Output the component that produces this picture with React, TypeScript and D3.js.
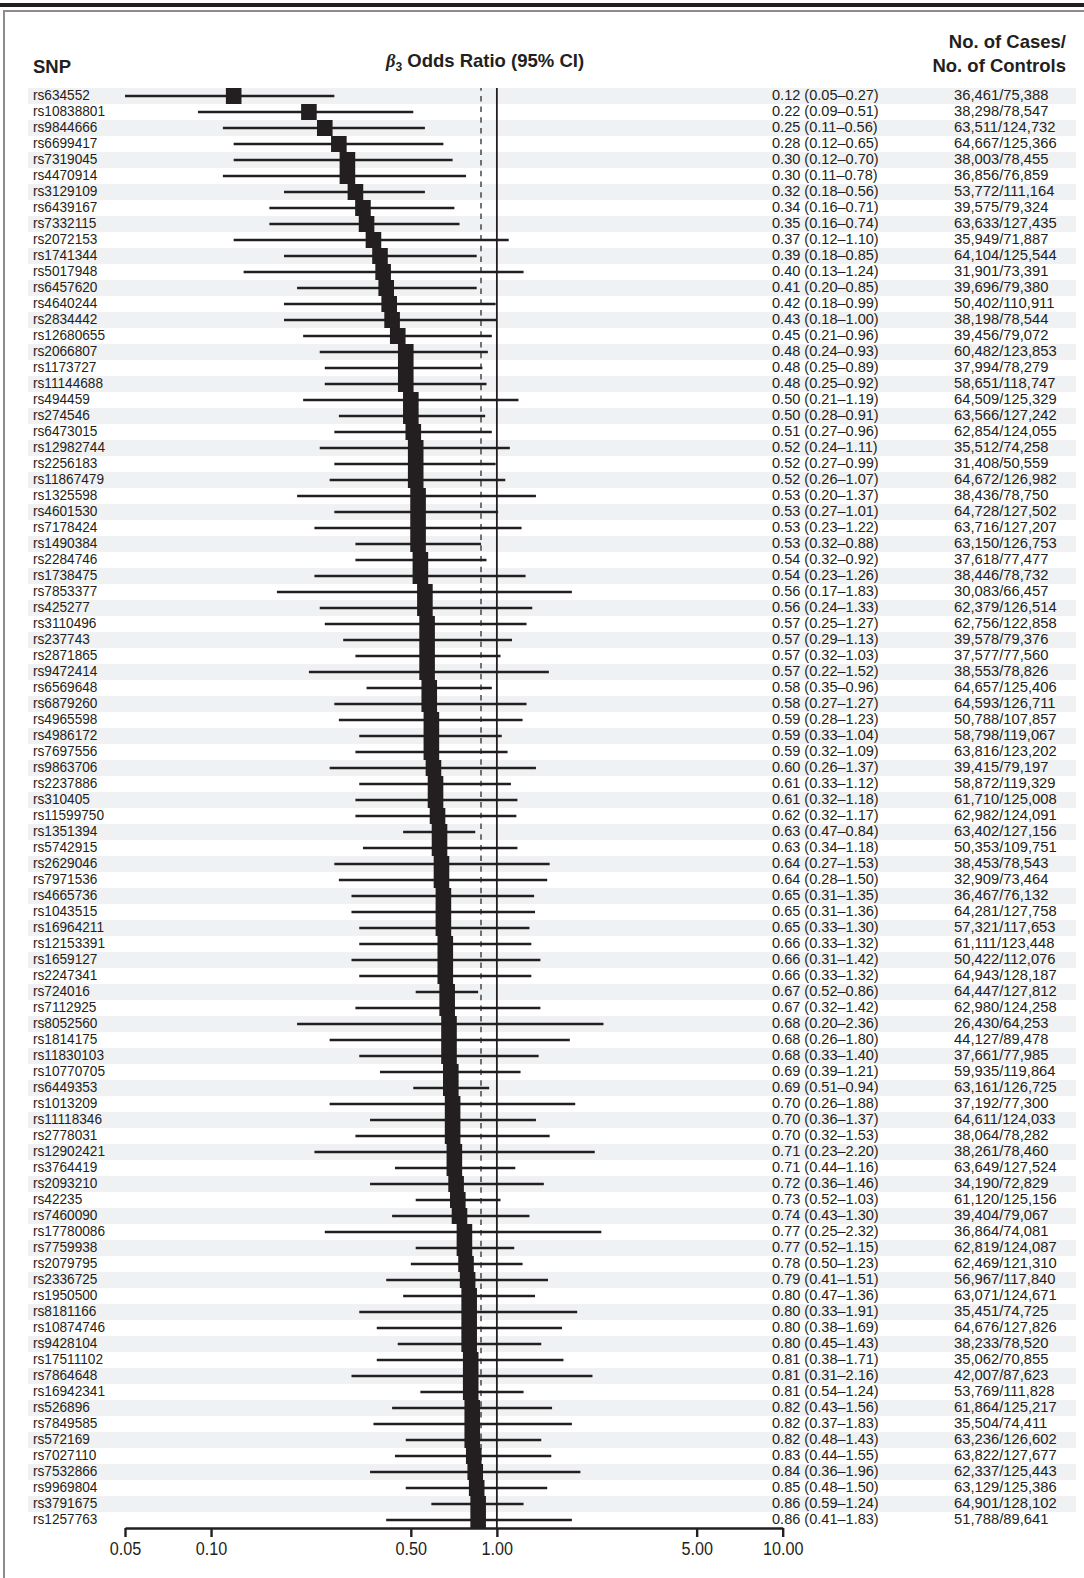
import { useEffect, useRef } from "react";
import * as d3 from "d3";

const snps = [
  "rs634552", "rs10838801", "rs9844666", "rs6699417", "rs7319045", "rs4470914", "rs3129109", "rs6439167",
  "rs7332115", "rs2072153", "rs1741344", "rs5017948", "rs6457620", "rs4640244", "rs2834442", "rs12680655",
  "rs2066807", "rs1173727", "rs11144688", "rs494459", "rs274546", "rs6473015", "rs12982744", "rs2256183",
  "rs11867479", "rs1325598", "rs4601530", "rs7178424", "rs1490384", "rs2284746", "rs1738475", "rs7853377",
  "rs425277", "rs3110496", "rs237743", "rs2871865", "rs9472414", "rs6569648", "rs6879260", "rs4965598",
  "rs4986172", "rs7697556", "rs9863706", "rs2237886", "rs310405", "rs11599750", "rs1351394", "rs5742915",
  "rs2629046", "rs7971536", "rs4665736", "rs1043515", "rs16964211", "rs12153391", "rs1659127", "rs2247341",
  "rs724016", "rs7112925", "rs8052560", "rs1814175", "rs11830103", "rs10770705", "rs6449353", "rs1013209",
  "rs11118346", "rs2778031", "rs12902421", "rs3764419", "rs2093210", "rs42235", "rs7460090", "rs17780086",
  "rs7759938", "rs2079795", "rs2336725", "rs1950500", "rs8181166", "rs10874746", "rs9428104", "rs17511102",
  "rs7864648", "rs16942341", "rs526896", "rs7849585", "rs572169", "rs7027110", "rs7532866", "rs9969804",
  "rs3791675", "rs1257763",
];

const oddsRatio = [
  0.12, 0.22, 0.25, 0.28, 0.30, 0.30, 0.32, 0.34, 0.35, 0.37, 0.39, 0.40, 0.41, 0.42, 0.43, 0.45,
  0.48, 0.48, 0.48, 0.50, 0.50, 0.51, 0.52, 0.52, 0.52, 0.53, 0.53, 0.53, 0.53, 0.54, 0.54, 0.56,
  0.56, 0.57, 0.57, 0.57, 0.57, 0.58, 0.58, 0.59, 0.59, 0.59, 0.60, 0.61, 0.61, 0.62, 0.63, 0.63,
  0.64, 0.64, 0.65, 0.65, 0.65, 0.66, 0.66, 0.66, 0.67, 0.67, 0.68, 0.68, 0.68, 0.69, 0.69, 0.70,
  0.70, 0.70, 0.71, 0.71, 0.72, 0.73, 0.74, 0.77, 0.77, 0.78, 0.79, 0.80, 0.80, 0.80, 0.80, 0.81,
  0.81, 0.81, 0.82, 0.82, 0.82, 0.83, 0.84, 0.85, 0.86, 0.86,
];

const ciLow = [
  0.05, 0.09, 0.11, 0.12, 0.12, 0.11, 0.18, 0.16, 0.16, 0.12, 0.18, 0.13, 0.20, 0.18, 0.18, 0.21,
  0.24, 0.25, 0.25, 0.21, 0.28, 0.27, 0.24, 0.27, 0.26, 0.20, 0.27, 0.23, 0.32, 0.32, 0.23, 0.17,
  0.24, 0.25, 0.29, 0.32, 0.22, 0.35, 0.27, 0.28, 0.33, 0.32, 0.26, 0.33, 0.32, 0.32, 0.47, 0.34,
  0.27, 0.28, 0.31, 0.31, 0.33, 0.33, 0.31, 0.33, 0.52, 0.32, 0.20, 0.26, 0.33, 0.39, 0.51, 0.26,
  0.36, 0.32, 0.23, 0.44, 0.36, 0.52, 0.43, 0.25, 0.52, 0.50, 0.41, 0.47, 0.33, 0.38, 0.45, 0.38,
  0.31, 0.54, 0.43, 0.37, 0.48, 0.44, 0.36, 0.48, 0.59, 0.41,
];

const ciHigh = [
  0.27, 0.51, 0.56, 0.65, 0.70, 0.78, 0.56, 0.71, 0.74, 1.10, 0.85, 1.24, 0.85, 0.99, 1.00, 0.96,
  0.93, 0.89, 0.92, 1.19, 0.91, 0.96, 1.11, 0.99, 1.07, 1.37, 1.01, 1.22, 0.88, 0.92, 1.26, 1.83,
  1.33, 1.27, 1.13, 1.03, 1.52, 0.96, 1.27, 1.23, 1.04, 1.09, 1.37, 1.12, 1.18, 1.17, 0.84, 1.18,
  1.53, 1.50, 1.35, 1.36, 1.30, 1.32, 1.42, 1.32, 0.86, 1.42, 2.36, 1.80, 1.40, 1.21, 0.94, 1.88,
  1.37, 1.53, 2.20, 1.16, 1.46, 1.03, 1.30, 2.32, 1.15, 1.23, 1.51, 1.36, 1.91, 1.69, 1.43, 1.71,
  2.16, 1.24, 1.56, 1.83, 1.43, 1.55, 1.96, 1.50, 1.24, 1.83,
];

const cases = [
  36461, 38298, 63511, 64667, 38003, 36856, 53772, 39575, 63633, 35949, 64104, 31901, 39696, 50402, 38198, 39456,
  60482, 37994, 58651, 64509, 63566, 62854, 35512, 31408, 64672, 38436, 64728, 63716, 63150, 37618, 38446, 30083,
  62379, 62756, 39578, 37577, 38553, 64657, 64593, 50788, 58798, 63816, 39415, 58872, 61710, 62982, 63402, 50353,
  38453, 32909, 36467, 64281, 57321, 61111, 50422, 64943, 64447, 62980, 26430, 44127, 37661, 59935, 63161, 37192,
  64611, 38064, 38261, 63649, 34190, 61120, 39404, 36864, 62819, 62469, 56967, 63071, 35451, 64676, 38233, 35062,
  42007, 53769, 61864, 35504, 63236, 63822, 62337, 63129, 64901, 51788,
];

const controls = [
  75388, 78547, 124732, 125366, 78455, 76859, 111164, 79324, 127435, 71887, 125544, 73391, 79380, 110911, 78544, 79072,
  123853, 78279, 118747, 125329, 127242, 124055, 74258, 50559, 126982, 78750, 127502, 127207, 126753, 77477, 78732, 66457,
  126514, 122858, 79376, 77560, 78826, 125406, 126711, 107857, 119067, 123202, 79197, 119329, 125008, 124091, 127156, 109751,
  78543, 73464, 76132, 127758, 117653, 123448, 112076, 128187, 127812, 124258, 64253, 89478, 77985, 119864, 126725, 77300,
  124033, 78282, 78460, 127524, 72829, 125156, 79067, 74081, 124087, 121310, 117840, 124671, 74725, 127826, 78520, 70855,
  87623, 111828, 125217, 74411, 126602, 127677, 125443, 125386, 128102, 89641,
];

const xTicks = [0.05, 0.1, 0.5, 1, 5, 10];
const dashedRef = 0.88;

const ink = "#231f20";
const stripe = "#f0f1f3";
const font = "'Liberation Sans', Arial, sans-serif";

export default function App() {
  const axisRef = useRef<SVGGElement | null>(null);

  const width = 1084;
  const height = 1578;
  const rowTop = 88;
  const rowH = 16;
  const axisY = rowTop + rowH * snps.length;

  const x = d3.scaleLog().domain([0.05, 10]).range([125, 782.7]);
  const y = d3
    .scaleBand<string>()
    .domain(snps)
    .range([rowTop, axisY]);
  const f2 = d3.format(".2f");
  const fN = d3.format(",");

  useEffect(() => {
    document.body.style.margin = "0";
    const g = d3.select(axisRef.current);
    g.selectAll("*").remove();
    g.call(
      d3
        .axisBottom(x)
        .tickValues(xTicks)
        .tickFormat((d: any) => f2(d))
        .tickSize(9)
        .tickSizeOuter(0)
        .tickPadding(5)
    );
    g.select(".domain").attr("stroke", ink).attr("stroke-width", 2.4);
    g.selectAll(".tick line").attr("stroke", ink).attr("stroke-width", 2.4);
    g.selectAll(".tick text")
      .attr("fill", ink)
      .attr("font-size", 18)
      .attr("font-family", font)
      .attr("transform", "scale(0.9,1)");
  }, []);

  return (
    <svg width={width} height={height} style={{ display: "block" }}>
      <rect x={0} y={0} width={width} height={height} fill="#fff" />
      <rect x={0} y={3} width={width} height={4} fill={ink} />
      <path d={`M4,${height} V11 H${width}`} fill="none" stroke="#8c8c8c" strokeWidth={2} />

      {/* headers */}
      <g fontFamily={font} fontWeight="bold" fill={ink} fontSize={18.5}>
        <text x={33} y={73}>SNP</text>
        <text x={485} y={67} textAnchor="middle">
          <tspan fontStyle="italic" fontFamily="'Liberation Serif', serif">β</tspan>
          <tspan fontSize={12} dy={4}>3</tspan>
          <tspan dy={-4}> Odds Ratio (95% CI)</tspan>
        </text>
        <text x={1066} y={48} textAnchor="end">No. of Cases/</text>
        <text x={1066} y={72} textAnchor="end">No. of Controls</text>
      </g>

      {/* stripes */}
      {snps.map((s, i) =>
        i % 2 === 0 ? (
          <rect key={s} x={28} y={y(s)!} width={1048} height={y.bandwidth()} fill={stripe} />
        ) : null
      )}

      {/* reference lines */}
      <line
        x1={x(dashedRef)}
        x2={x(dashedRef)}
        y1={rowTop}
        y2={axisY}
        stroke="#3a3a3a"
        strokeWidth={1.4}
        strokeDasharray="5.5 5.2"
        strokeDashoffset={2.8}
      />
      <line x1={x(1)} x2={x(1)} y1={rowTop} y2={axisY} stroke={ink} strokeWidth={1.8} />

      {/* CI lines and squares */}
      {snps.map((s, i) => {
        const cy = y(s)! + y.bandwidth() / 2;
        return (
          <g key={s}>
            <line x1={x(ciLow[i])} x2={x(ciHigh[i])} y1={cy} y2={cy} stroke={ink} strokeWidth={2.6} />
            <rect x={x(oddsRatio[i]) - 7.8} y={y(s)!} width={15.6} height={y.bandwidth()} fill={ink} />
          </g>
        );
      })}

      {/* row text */}
      <g fontFamily={font} fill={ink} fontSize={15}>
        {snps.map((s, i) => {
          const by = y(s)! + 12.3;
          return (
            <g key={s}>
              <text transform={`translate(33,${by}) scale(0.91,1)`}>{s}</text>
              <text transform={`translate(772,${by}) scale(0.97,1)`}>
                {`${f2(oddsRatio[i])} (${f2(ciLow[i])}–${f2(ciHigh[i])})`}
              </text>
              <text transform={`translate(954,${by}) scale(0.985,1)`}>
                {`${fN(cases[i])}/${fN(controls[i])}`}
              </text>
            </g>
          );
        })}
      </g>

      <g ref={axisRef} transform={`translate(0,${axisY})`} />
    </svg>
  );
}
